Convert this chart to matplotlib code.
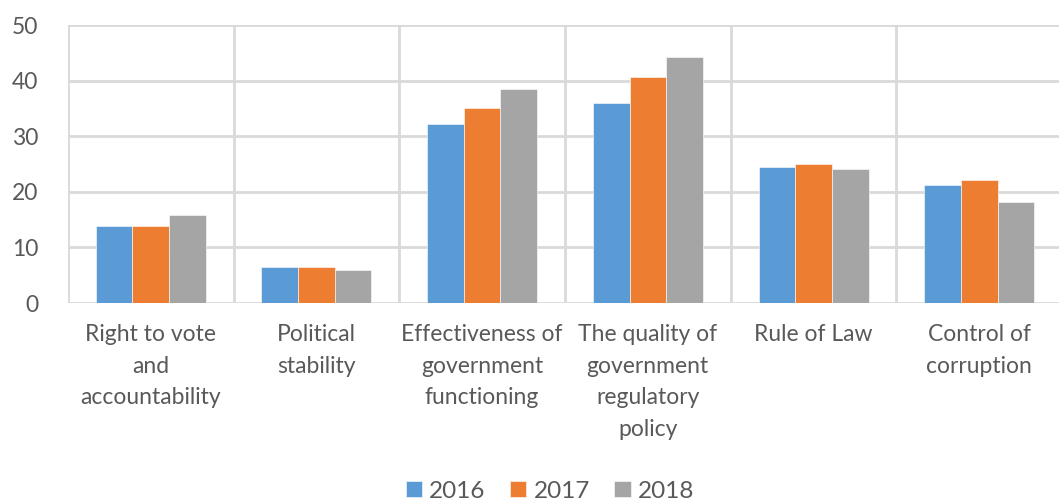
import numpy as np
import matplotlib
matplotlib.use('Agg')
import matplotlib.pyplot as plt

plt.rcParams['font.family'] = ['Lato', 'DejaVu Sans']

categories = ['Right to vote\nand\naccountability',
              'Political\nstability',
              'Effectiveness of\ngovernment\nfunctioning',
              'The quality of\ngovernment\nregulatory\npolicy',
              'Rule of Law',
              'Control of\ncorruption']
years = ['2016', '2017', '2018']
v2016 = [13.8, 6.5, 32.2, 36.0, 24.5, 21.3]
v2017 = [13.8, 6.5, 35.1, 40.6, 25.0, 22.2]
v2018 = [15.8, 6.0, 38.5, 44.3, 24.2, 18.1]
colors = ['#5B9BD5', '#ED7D31', '#A5A5A5']

txt = '#595959'
grid = '#D9D9D9'

fig = plt.figure(figsize=(10.59, 5.03), dpi=100)
ax = fig.add_axes([0.064, 0.3976, 0.939, 0.5524])

x = np.arange(len(categories))
w = 0.221
for i, (vals, c, lab) in enumerate(zip([v2016, v2017, v2018], colors, years)):
    ax.bar(x + (i - 1) * w, vals, w, color=c, label=lab,
           edgecolor='white', linewidth=0.4, zorder=3)

ax.set_xlim(-0.5, len(categories) - 0.5)
ax.set_ylim(0, 50)
ax.set_yticks(range(0, 51, 10))
ax.set_xticks(x)
ax.set_xticklabels(categories, fontsize=16.5, color=txt, linespacing=1.63)
ax.set_xticks(np.arange(-0.5, len(categories), 1), minor=True)
ax.tick_params(axis='x', which='both', length=0, pad=15)
ax.tick_params(axis='y', length=0, pad=21, labelsize=16.5, labelcolor=txt)
ax.grid(axis='y', color=grid, linewidth=2, zorder=0)
ax.grid(axis='x', which='minor', color=grid, linewidth=2, zorder=0)
ax.grid(axis='x', which='major', visible=False)
for s in ax.spines.values():
    s.set_visible(False)

ax.legend(loc='center', bbox_to_anchor=(550 / 1059, 1 - 491 / 503),
          bbox_transform=fig.transFigure, ncol=3, frameon=False,
          fontsize=17.5, labelcolor=txt, handlelength=0.67, handleheight=0.67,
          handletextpad=0.3, columnspacing=1.0)

fig.savefig('out.png', dpi=100)
